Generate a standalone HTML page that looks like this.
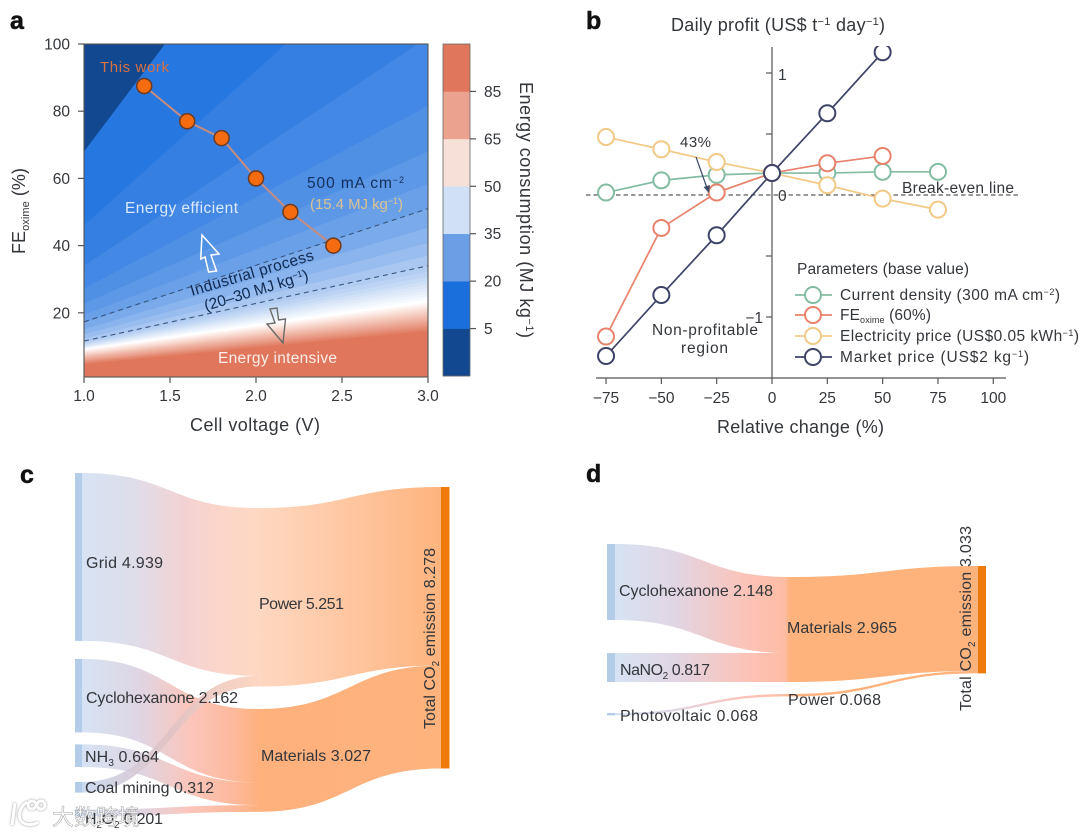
<!DOCTYPE html>
<html lang="en">
<head>
<meta charset="utf-8">
<title>Energy consumption, profit and CO2 emission charts</title>
<style>
  html, body { margin: 0; padding: 0; background: #fff; }
  #figure { display: block; width: 1080px; height: 832px; filter: blur(0.35px); font-family: "Liberation Sans", "Noto Sans CJK SC", sans-serif; }
  #figure text { fill: #33363a; font-size: 16px; }
  #figure .tick-label { font-size: 15.5px; }
  #figure .panel-letter { font-size: 25px; font-weight: bold; fill: #111; stroke: #111; stroke-width: .5; }
  #figure .axis-title { font-size: 18px; }
  #figure .tick { stroke: #555; stroke-width: 1.2; }
</style>
</head>
<body>
<svg id="figure" xmlns="http://www.w3.org/2000/svg" width="1080" height="832" viewBox="0 0 1080 832">
  <defs>
    <clipPath id="plot-a-clip"><rect x="84" y="44" width="344" height="333"/></clipPath>
    <clipPath id="plot-b-clip"><rect x="580" y="46" width="480" height="340"/></clipPath>
    <linearGradient id="grad-c-power-left" gradientUnits="userSpaceOnUse" x1="82" x2="258" y1="0" y2="0">
      <stop offset="0" stop-color="#d6e3f4"/><stop offset=".3" stop-color="#dfdde9"/><stop offset=".58" stop-color="#f3d2d3"/><stop offset=".8" stop-color="#fcd6c9"/><stop offset="1" stop-color="#fed8c2"/>
    </linearGradient>
    <linearGradient id="grad-c-power-right" gradientUnits="userSpaceOnUse" x1="258" x2="441" y1="0" y2="0">
      <stop offset="0" stop-color="#fed8c2"/><stop offset="1" stop-color="#feb47e"/>
    </linearGradient>
    <linearGradient id="grad-c-mat-left" gradientUnits="userSpaceOnUse" x1="82" x2="258" y1="0" y2="0">
      <stop offset="0" stop-color="#d6e3f4"/><stop offset=".33" stop-color="#dfd5e3"/><stop offset=".62" stop-color="#fcc5ba"/><stop offset=".86" stop-color="#fdb99c"/><stop offset="1" stop-color="#feb17f"/>
    </linearGradient>
    <linearGradient id="grad-c-mat-right" gradientUnits="userSpaceOnUse" x1="258" x2="441" y1="0" y2="0">
      <stop offset="0" stop-color="#feb07d"/><stop offset="1" stop-color="#feb37d"/>
    </linearGradient>
    <linearGradient id="grad-c-coal" gradientUnits="userSpaceOnUse" x1="82" x2="258" y1="0" y2="0">
      <stop offset="0" stop-color="#c8d8f0"/><stop offset=".5" stop-color="#e0c2c4"/><stop offset="1" stop-color="#fdd3bd"/>
    </linearGradient>
    <linearGradient id="grad-d-left" gradientUnits="userSpaceOnUse" x1="615" x2="790" y1="0" y2="0">
      <stop offset="0" stop-color="#d6e3f4"/><stop offset=".35" stop-color="#e2d5e3"/><stop offset=".75" stop-color="#fcc3b8"/><stop offset=".97" stop-color="#fdbca4"/><stop offset="1" stop-color="#feb27c"/>
    </linearGradient>
    <linearGradient id="grad-d-right" gradientUnits="userSpaceOnUse" x1="790" x2="978" y1="0" y2="0">
      <stop offset="0" stop-color="#feb27c"/><stop offset="1" stop-color="#feb37d"/>
    </linearGradient>
  </defs>

  <g id="panel-a">
    <g id="contours" clip-path="url(#plot-a-clip)"></g>
    <g id="a-dashed" clip-path="url(#plot-a-clip)"></g>
    <rect x="84" y="44" width="344" height="333" fill="none" stroke="#555" stroke-width="1.1"/>
    <g id="a-axes"></g>
    <g id="a-series"></g>
    <polygon points="202,235 219,254 211,255 216.5,271 208.6,272 205,257 200.7,259" fill="none" stroke="#fff" stroke-width="1.5"/>
    <polygon points="283,343 285.5,319 278.6,320 277,308 270,309 275,323 267,324" fill="none" stroke="#6b6b6b" stroke-width="1.4"/>

    <text class="panel-letter" x="10" y="29">a</text>
    <text x="100" y="72" textLength="69" style="fill:#d9703f;font-size:15px">This work</text>
    <text x="125" y="213" textLength="113" style="fill:#dce9fb;font-size:15.5px">Energy efficient</text>
    <text x="307" y="188" textLength="97" style="fill:#14305a;font-size:15.5px">500 mA cm<tspan dy="-5" font-size="9">−2</tspan></text>
    <text x="310" y="209" textLength="93" style="fill:#d9c392;font-size:15px">(15.4 MJ kg<tspan dy="-5" font-size="9">−1</tspan><tspan dy="5">)</tspan></text>
    <text transform="translate(192,296) rotate(-16.5)" textLength="128" style="fill:#10294f;font-size:15.5px">Industrial process</text>
    <text transform="translate(206,311) rotate(-17)" textLength="108" style="fill:#10294f;font-size:15.5px">(20–30 MJ kg<tspan dy="-5" font-size="9">−1</tspan><tspan dy="5">)</tspan></text>
    <text x="218" y="363" textLength="119" style="fill:#fbeee8;font-size:15.5px">Energy intensive</text>
    <text class="axis-title" x="190" y="431" textLength="130">Cell voltage (V)</text>
    <text class="axis-title" transform="translate(25,254) rotate(-90)" textLength="86">FE<tspan dy="4" font-size="11">oxime</tspan><tspan dy="-4"> (%)</tspan></text>
    <g id="colorbar"></g>
    <text class="axis-title" transform="translate(520,82) rotate(90)" textLength="256">Energy consumption (MJ kg<tspan dy="-6" font-size="11">−1</tspan><tspan dy="6">)</tspan></text>
  </g>

  <g id="panel-b">
    <text class="panel-letter" x="586" y="29">b</text>
    <text class="axis-title" x="671" y="31" textLength="214">Daily profit (US$ t<tspan dy="-6" font-size="11">−1</tspan><tspan dy="6"> day</tspan><tspan dy="-6" font-size="11">−1</tspan><tspan dy="6">)</tspan></text>
    <g id="b-axes"></g>
    <g id="b-series" clip-path="url(#plot-b-clip)"></g>
    <line x1="696" y1="157" x2="707" y2="188" stroke="#3c4a68" stroke-width="1.2"/>
    <polygon points="709,193 703.5,187 710,185" fill="#3c4a68"/>
    <text x="680" y="147" textLength="31" style="font-size:15px">43%</text>
    <text x="902" y="193" textLength="112" style="font-size:15.5px">Break-even line</text>
    <text x="652" y="335" textLength="106" style="font-size:15.5px">Non-profitable</text>
    <text x="681" y="353" textLength="47" style="font-size:15.5px">region</text>
    <text class="axis-title" x="717" y="433" textLength="167">Relative change (%)</text>
    <g>
      <text x="797" y="274" textLength="172" style="font-size:15.5px">Parameters (base value)</text>
      <g id="legend-markers"></g>
      <text x="840" y="300" textLength="220" style="font-size:15.5px">Current density (300 mA cm<tspan dy="-5" font-size="9">−2</tspan><tspan dy="5">)</tspan></text>
      <text x="840" y="320" textLength="91" style="font-size:15.5px">FE<tspan dy="3" font-size="9">oxime</tspan><tspan dy="-3"> (60%)</tspan></text>
      <text x="840" y="341" textLength="239" style="font-size:15.5px">Electricity price (US$0.05 kWh<tspan dy="-5" font-size="9">−1</tspan><tspan dy="5">)</tspan></text>
      <text x="840" y="362" textLength="189" style="font-size:15.5px">Market price (US$2 kg<tspan dy="-5" font-size="9">−1</tspan><tspan dy="5">)</tspan></text>
    </g>
  </g>

  <g id="panel-c">
    <text class="panel-letter" x="20" y="483">c</text>
    <g id="sankey-c"></g>
    <text x="86" y="568" textLength="77">Grid 4.939</text>
    <text x="259" y="609" textLength="85">Power 5.251</text>
    <text x="86" y="703" textLength="152">Cyclohexanone 2.162</text>
    <text x="85" y="762" textLength="74">NH<tspan dy="4" font-size="10">3</tspan><tspan dy="-4"> 0.664</tspan></text>
    <text x="85" y="793" textLength="129">Coal mining 0.312</text>
    <text x="85" y="824" textLength="78">H<tspan dy="4" font-size="10">2</tspan><tspan dy="-4">O</tspan><tspan dy="4" font-size="10">2</tspan><tspan dy="-4"> 0.201</tspan></text>
    <text x="261" y="761" textLength="110">Materials 3.027</text>
    <text transform="translate(435,729) rotate(-90)" textLength="181">Total CO<tspan dy="4" font-size="10">2</tspan><tspan dy="-4"> emission 8.278</tspan></text>
  </g>

  <g id="panel-d">
    <text class="panel-letter" x="586" y="482">d</text>
    <g id="sankey-d"></g>
    <text x="619" y="596" textLength="154">Cyclohexanone 2.148</text>
    <text x="787" y="633" textLength="110">Materials 2.965</text>
    <text x="620" y="675" textLength="90">NaNO<tspan dy="4" font-size="10">2</tspan><tspan dy="-4"> 0.817</tspan></text>
    <text x="788" y="705" textLength="93">Power 0.068</text>
    <text x="620" y="721" textLength="138">Photovoltaic 0.068</text>
    <text transform="translate(971,711) rotate(-90)" textLength="185">Total CO<tspan dy="4" font-size="10">2</tspan><tspan dy="-4"> emission 3.033</tspan></text>
  </g>

  <g>
    <g fill="none" stroke="#fff" stroke-width="3" opacity=".95" style="filter:drop-shadow(0 0 1px #888)">
      <path d="M15 803 L12 825 M27 802 C19 808 17 817 22 822 C27 826 35 825 38 822"/>
      <circle cx="32" cy="805" r="4"/><circle cx="41" cy="805" r="4"/>
    </g>
    <text x="52" y="825" style="fill:#fff;font-size:22px;opacity:.92;stroke:#999;stroke-width:.5;font-family:'Liberation Sans','Noto Sans CJK SC',sans-serif">大数跨境</text>
  </g>
</svg>

<script>
// ---------- Panel a data ----------
const contourEnergy = [5, 7.5, 10, 12.5, 15, 17.5, 20, 22.5, 25, 27.5, 30, 32, 34, 36, 38, 40, 42, 44, 46, 48, 50, 51, 52, 53, 54, 55, 56, 57, 58, 59, 60, 61, 62, 63, 64, 65, 66, 67, 68, 69, 70];
const contourFeAtV1 = [68, 46, 34, 27.2, 22.7, 19.4, 17, 15.1, 13.6, 12.4, 11.4, 11.1, 10.8, 10.5, 10.2, 10, 9.8, 9.6, 9.4, 9.2, 9, 8.8, 8.5, 8.3, 8.1, 7.8, 7.6, 7.4, 7.2, 7, 6.8, 6.5, 6.3, 6, 5.8, 5.6, 5.4, 5.2, 4.9, 4.7, 4.5];
const contourFeAtV3 = [204, 138, 102, 81.6, 68, 58.3, 51, 45.3, 40.8, 37, 34, 32.3, 30.8, 29.5, 28.5, 27.5, 26.5, 25.7, 24.8, 23.9, 23, 22.6, 22.1, 21.7, 21.2, 20.8, 20.3, 19.9, 19.4, 19, 18.5, 18, 17.6, 17.2, 16.7, 16.2, 15.8, 15.4, 15, 14.6, 14.3];
const rampEnergy = [5, 20, 30, 40, 50, 55, 70];
const rampColors = ['#1a6fdf', '#6aa0e8', '#a9c7f1', '#d8e6f8', '#ffffff', '#f9ddd4', '#e0775c'];
const voltageTicks = [1.0, 1.5, 2.0, 2.5, 3.0];
const feTicks = [20, 40, 60, 80, 100];
const workVoltage = [1.35, 1.6, 1.8, 2.0, 2.2, 2.45];
const workFe = [87.5, 77, 72, 60, 50, 40];
const industrialEnergy = [20, 30];
const industrialFeAtV1 = [17.3, 11.6];
const industrialFeAtV3 = [51, 34];
const colorbarLabels = ['5', '20', '35', '50', '65', '85'];
const colorbarColors = ['#12488f', '#1a6fdc', '#6a9fe6', '#cfe0f7', '#f6e0d8', '#eba38f', '#e0775c'];

// ---------- Panel b data ----------
const changeCategories = [-75, -50, -25, 0, 25, 50, 75];
const changeTicks = [-75, -50, -25, 0, 25, 50, 75, 100];
const profitMajorTicks = [1, -1];
const profitMinorTicks = [0.5, -0.5];
const currentDensityValues = [0.02, 0.12, 0.165, 0.18, 0.18, 0.19, 0.19];
const electricityPriceValues = [0.475, 0.375, 0.27, 0.18, 0.08, -0.03, -0.12];
const feOximeValues = [-1.16, -0.27, 0.02, 0.18, 0.26, 0.32, null];
const marketPriceValues = [-1.32, -0.82, -0.33, 0.18, 0.67, 1.17, null];

// ---------- Panel c data ----------
const sankeyCSourceValues = [4.939, 2.162, 0.664, 0.312, 0.201];
const sankeyCPower = 5.251;
const sankeyCMaterials = 3.027;
const sankeyCTotal = 8.278;

// ---------- Panel d data ----------
const sankeyDSourceValues = [2.148, 0.817, 0.068];
const sankeyDMaterials = 2.965;
const sankeyDPower = 0.068;
const sankeyDTotal = 3.033;

const NS = 'http://www.w3.org/2000/svg';
function mk(tag, parent, attrs, text) {
  const el = document.createElementNS(NS, tag);
  for (const k in attrs) el.setAttribute(k, attrs[k]);
  if (text !== undefined) el.textContent = text;
  parent.appendChild(el);
  return el;
}
const byId = id => document.getElementById(id);

// ---------- Panel a scales ----------
const xA = v => 84 + (v - 1) * 172;
const yA = fe => 380 - fe * 3.36;

function hexToRgb(h) { return [1, 3, 5].map(i => parseInt(h.substr(i, 2), 16)); }
function rampColor(e) {
  if (e <= rampEnergy[0]) return rampColors[0];
  for (let i = 1; i < rampEnergy.length; i++) {
    if (e <= rampEnergy[i]) {
      const t = (e - rampEnergy[i - 1]) / (rampEnergy[i] - rampEnergy[i - 1]);
      const a = hexToRgb(rampColors[i - 1]), b = hexToRgb(rampColors[i]);
      return 'rgb(' + a.map((c, j) => Math.round(c + (b[j] - c) * t)).join(',') + ')';
    }
  }
  return rampColors[rampColors.length - 1];
}

const contourGroup = byId('contours');
const contourBase = mk('rect', contourGroup, { x: xA(1), y: yA(100), width: xA(3) - xA(1), height: yA(0) - yA(100), fill: rampColors[rampColors.length - 1] });


for (let i = contourEnergy.length - 1; i >= 0; i--) {
  const band = mk('polygon', contourGroup, {
    points: [xA(1) + ',' + yA(contourFeAtV1[i]), xA(3) + ',' + yA(contourFeAtV3[i]), xA(3) + ',' + yA(300), xA(1) + ',' + yA(300)].join(' '),
    fill: rampColor(contourEnergy[i])
  });
  
  
}
const darkBand = mk('polygon', contourGroup, {
  points: [xA(1) + ',' + yA(contourFeAtV1[0]), xA(3) + ',' + yA(contourFeAtV3[0]), xA(3) + ',' + yA(300), xA(1) + ',' + yA(300)].join(' '),
  fill: colorbarColors[0]
});



industrialEnergy.forEach((e, i) => {
  const line = mk('line', byId('a-dashed'), { x1: xA(1), y1: yA(industrialFeAtV1[i]), x2: xA(3), y2: yA(industrialFeAtV3[i]), stroke: '#3a5680', 'stroke-width': 1.1, 'stroke-dasharray': '5 4' });
  
  
});

const axesA = byId('a-axes');
voltageTicks.forEach(v => {
  const tick = mk('line', axesA, { x1: xA(v), x2: xA(v), y1: 377, y2: 383, class: 'tick' });
  
  
  const label = mk('text', axesA, { x: xA(v), y: 401, 'text-anchor': 'middle', class: 'tick-label' }, v.toFixed(1));
  
  
});
feTicks.forEach(f => {
  const tick = mk('line', axesA, { x1: 78, x2: 84, y1: yA(f), y2: yA(f), class: 'tick' });
  
  
  const label = mk('text', axesA, { x: 70, y: yA(f) + 5.5, 'text-anchor': 'end', class: 'tick-label' }, String(f));
  
  
});

const seriesA = byId('a-series');
const workLine = mk('polyline', seriesA, { points: workVoltage.map((v, i) => xA(v) + ',' + yA(workFe[i])).join(' '), fill: 'none', stroke: '#c58c80', 'stroke-width': 2 });


workVoltage.forEach((v, i) => {
  const dot = mk('circle', seriesA, { cx: xA(v), cy: yA(workFe[i]), r: 7.5, fill: '#f56c10', stroke: '#6e3a20', 'stroke-width': 1.5 });
  
  
});

// colorbar
const cbar = byId('colorbar');
const cbTop = 44, cbBottom = 376, cbStep = (cbBottom - cbTop) / colorbarColors.length;
colorbarColors.forEach((c, i) => {
  const seg = mk('rect', cbar, { x: 443, width: 27, y: cbBottom - (i + 1) * cbStep, height: cbStep + 0.3, fill: c });
  
  
});
const cbFrame = mk('rect', cbar, { x: 443, y: cbTop, width: 27, height: cbBottom - cbTop, fill: 'none', stroke: '#666', 'stroke-width': 0.8 });


colorbarLabels.forEach((l, i) => {
  const y = cbBottom - (i + 1) * cbStep;
  const tick = mk('line', cbar, { x1: 470, x2: 476, y1: y, y2: y, class: 'tick' });
  
  
  const label = mk('text', cbar, { x: 484, y: y + 5.5, class: 'tick-label' }, l);
  
  
});

// ---------- Panel b scales ----------
const xB = c => 772 + c * 2.213;
const yB = p => 195 - p * 122;

const axesB = byId('b-axes');
const xAxisB = mk('line', axesB, { x1: 596, x2: 1006, y1: 378, y2: 378, stroke: '#555', 'stroke-width': 1.2 });


const yAxisB = mk('line', axesB, { x1: xB(0), x2: xB(0), y1: 47, y2: 378, stroke: '#555', 'stroke-width': 1.2 });


changeTicks.forEach(c => {
  const tick = mk('line', axesB, { x1: xB(c), x2: xB(c), y1: 378, y2: 384, class: 'tick' });
  
  
  const label = mk('text', axesB, { x: xB(c), y: 403, 'text-anchor': 'middle', class: 'tick-label' }, String(c).replace('-', '−'));
  
  
});
profitMajorTicks.concat(profitMinorTicks).forEach(p => {
  const tick = mk('line', axesB, { x1: xB(0) - 6, x2: xB(0), y1: yB(p), y2: yB(p), class: 'tick' });
  
  
});
profitMajorTicks.forEach(p => {
  const label = p > 0
    ? mk('text', axesB, { x: 778, y: yB(p) + 7, class: 'tick-label' }, String(p))
    : mk('text', axesB, { x: 763, y: yB(p) + 6, 'text-anchor': 'end', class: 'tick-label' }, '−' + Math.abs(p));
  
  
});
const zeroLabel = mk('text', axesB, { x: 778, y: yB(0) + 6, class: 'tick-label' }, '0');


const breakEven = mk('line', axesB, { x1: 586, x2: 1018, y1: yB(0), y2: yB(0), stroke: '#333', 'stroke-width': 1.1, 'stroke-dasharray': '4.5 3' });



const seriesB = byId('b-series');
const seriesGreen = '#83bca2', seriesYellow = '#f2c985', seriesRed = '#e8826c', seriesNavy = '#3e4368';
function drawSeries(values, color, name) {
  const pts = [];
  values.forEach((v, i) => { if (v !== null) pts.push([xB(changeCategories[i]), yB(v)]); });
  const line = mk('polyline', seriesB, { points: pts.map(p => p.join(',')).join(' '), fill: 'none', stroke: color, 'stroke-width': 1.7 });
  
  
  pts.forEach(p => {
    const dot = mk('circle', seriesB, { cx: p[0], cy: p[1], r: 8, fill: '#fff', stroke: color, 'stroke-width': 2 });
    
    
  });
}
drawSeries(currentDensityValues, seriesGreen, 'current-density');
drawSeries(electricityPriceValues, seriesYellow, 'electricity-price');
drawSeries(feOximeValues, seriesRed, 'fe-oxime');
drawSeries(marketPriceValues, seriesNavy, 'market-price');

const legendMarkers = byId('legend-markers');
[seriesGreen, seriesRed, seriesYellow, seriesNavy].forEach((color, i) => {
  const y = [295, 315, 336, 357][i];
  const lm = mk('line', legendMarkers, { x1: 795, x2: 832, y1: y, y2: y, stroke: color, 'stroke-width': 1.7 });
  
  
  const ld = mk('circle', legendMarkers, { cx: 813, cy: y, r: 8, fill: '#fff', stroke: color, 'stroke-width': 2 });
  
  
});

// ---------- Sankey ----------
function link(parent, x0, y0, x1, y1, h, fill, name, opacity) {
  const m = (x0 + x1) / 2;
  const d = 'M' + x0 + ' ' + y0 + ' C' + m + ' ' + y0 + ' ' + m + ' ' + y1 + ' ' + x1 + ' ' + y1 +
            ' L' + x1 + ' ' + (y1 + h) + ' C' + m + ' ' + (y1 + h) + ' ' + m + ' ' + (y0 + h) + ' ' + x0 + ' ' + (y0 + h) + 'Z';
  const p = mk('path', parent, { d: d, fill: fill, opacity: opacity === undefined ? 1 : opacity });
  
  
}
function node(parent, x, y, w, h, fill, name) {
  const r = mk('rect', parent, { x: x, y: y, width: w, height: h, fill: fill });
  
  
}

// Sankey c
(function () {
  const g = byId('sankey-c');
  const s = 34, leftX = 82, midX = 258, rightX = 441;
  const gapAfter = [18, 12, 15, 17];
  const tops = [];
  let y = 473;
  sankeyCSourceValues.forEach((v, i) => { tops.push(y); y += v * s + (gapAfter[i] || 0); });
  const powerTop = 508, materialsTop = 709, totalTop = 487;
  const hs = sankeyCSourceValues.map(v => v * s);

  link(g, midX, powerTop, rightX, totalTop, sankeyCPower * s, 'url(#grad-c-power-right)', 'flow-power-total');
  link(g, midX, materialsTop, rightX, totalTop + sankeyCPower * s, sankeyCMaterials * s, 'url(#grad-c-mat-right)', 'flow-materials-total');
  link(g, leftX, tops[0], midX, powerTop, hs[0], 'url(#grad-c-power-left)', 'flow-grid-power');
  link(g, leftX, tops[1], midX, materialsTop, hs[1], 'url(#grad-c-mat-left)', 'flow-cyclohexanone-materials');
  link(g, leftX, tops[2], midX, materialsTop + hs[1], hs[2], 'url(#grad-c-mat-left)', 'flow-nh3-materials');
  link(g, leftX, tops[4], midX, materialsTop + hs[1] + hs[2], hs[4], 'url(#grad-c-mat-left)', 'flow-h2o2-materials');
  link(g, leftX, tops[3], midX, powerTop + hs[0], hs[3], 'url(#grad-c-coal)', 'flow-coal-power', 0.92);

  ['grid', 'cyclohexanone', 'nh3', 'coal-mining', 'h2o2'].forEach((n, i) => {
    node(g, 75, tops[i], 7, hs[i], '#b3cde8', 'node-' + n);
  });
  node(g, 441, totalTop, 8.5, sankeyCTotal * s, '#ee7a0c', 'node-total-c');
})();

// Sankey d
(function () {
  const g = byId('sankey-d');
  const s = 35.4, leftX = 615, midX = 790, rightX = 978;
  const gapAfter = [33, 31];
  const tops = [];
  let y = 544;
  sankeyDSourceValues.forEach((v, i) => { tops.push(y); y += v * s + (gapAfter[i] || 0); });
  const materialsTop = 577, powerTop = 694, totalTop = 566;
  const hs = sankeyDSourceValues.map(v => v * s);

  link(g, midX, materialsTop, rightX, totalTop, sankeyDMaterials * s, 'url(#grad-d-right)', 'flow-materials-total-d');
  link(g, midX, powerTop, rightX, totalTop + sankeyDMaterials * s, sankeyDPower * s, 'url(#grad-d-right)', 'flow-power-total-d');
  link(g, leftX, tops[0], midX, materialsTop, hs[0], 'url(#grad-d-left)', 'flow-cyclohexanone-materials-d');
  link(g, leftX, tops[1], midX, materialsTop + hs[0], hs[1], 'url(#grad-d-left)', 'flow-nano2-materials');
  link(g, leftX, tops[2], midX, powerTop, hs[2], 'url(#grad-d-left)', 'flow-photovoltaic-power');

  ['cyclohexanone', 'nano2', 'photovoltaic'].forEach((n, i) => {
    node(g, 607, tops[i], 8, hs[i], '#b3cde8', 'node-' + n + '-d');
  });
  node(g, 978, totalTop, 8, sankeyDTotal * s, '#ee7a0c', 'node-total-d');
})();
</script>
</body>
</html>
